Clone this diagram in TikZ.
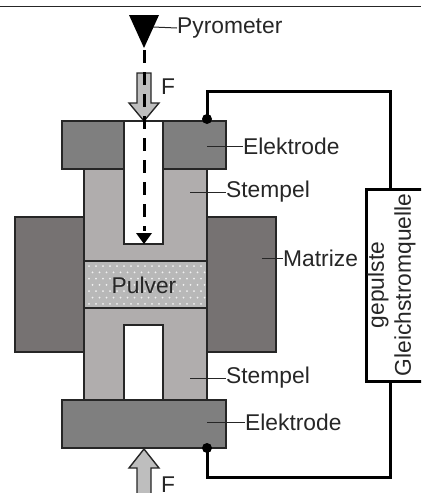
\documentclass[tikz,border=0pt]{standalone}
\usepackage{fontspec}
\setmainfont{Liberation Sans}
\usetikzlibrary{arrows.meta}
\definecolor{elek}{HTML}{7F7F7F}
\definecolor{stem}{HTML}{B0ADAD}
\definecolor{matr}{HTML}{767272}
\definecolor{pulv}{HTML}{B8B8B8}
\definecolor{ink}{HTML}{262626}
\definecolor{farrow}{HTML}{BEBEBE}
\tikzset{
  x=1pt,y=-1pt,
  part/.style={draw=ink,line width=1.4pt,inner sep=0pt,outer sep=0pt,anchor=north west},
  lbl/.style={font=\fontsize{22.8}{26}\selectfont,text=ink,inner sep=0pt,anchor=west},
  lead/.style={draw=ink,line width=1pt},
  wire/.style={draw=black,line width=3pt},
  junction/.style={circle,fill=black,inner sep=0pt,minimum size=10pt},
  beam/.style={draw=black,line width=3pt,dash pattern=on 13pt off 9pt},
  farr/.style={draw=ink,line width=1.4pt,fill=farrow,line join=miter},
}
\newcommand{\partbox}[7]{\node[part,fill=#2,minimum width=#5-#3,minimum height=#6-#4] (#1) at (#3,#4) {#7};}
\begin{document}
\begin{tikzpicture}
\useasboundingbox (0,0) rectangle (421,493);
\clip (0,0) rectangle (421,493);
\draw[ink,line width=1pt] (0,6) -- (421,6);
% matrix
\partbox{matL}{matr}{15}{217}{84}{352}{}
\partbox{matR}{matr}{207}{217}{276}{352}{}
% punches
\partbox{stemT}{stem}{84}{169}{207}{261}{}
\partbox{stemB}{stem}{84}{308}{207}{400}{}
% powder
\partbox{pulver}{pulv}{84}{261}{207}{308}{}
\foreach \i in {0,...,16}{\foreach \j in {0,...,6}{
  \fill[white,opacity=.8] ({89+\i*7+mod(\j,2)*3.5},{266+\j*6.3}) circle (1pt);
}}
\node[font=\fontsize{22.8}{26}\selectfont,text=ink,inner sep=0pt] (pulvertxt) at (144,285) {Pulver};
% electrodes
\partbox{elT}{elek}{62}{121}{226}{169}{}
\partbox{elB}{elek}{62}{400}{226}{448}{}
% holes
\partbox{holeT}{white}{124}{121}{163}{244}{}
\partbox{holeB}{white}{124}{325}{163}{400}{}
% force arrow top
\draw[farr] (137,73) -- (151,73) -- (151,103) -- (159,103) -- (144,121) -- (129,103) -- (137,103) -- cycle;
% force arrow bottom
\draw[farr] (137,494) -- (137,468) -- (129,468) -- (144,449) -- (159,468) -- (151,468) -- (151,494);
% pyrometer
\fill[black] (129,15) -- (159,15) -- (144,48) -- cycle;
\coordinate (pyr) at (144,50);
\coordinate (pyrside) at (153,27);
\fill[black] (136,233) -- (152,233) -- (144,244) -- cycle;
\coordinate (beamend) at (144,231);
\draw[beam] (pyr) -- (beamend);
% source
\node[part,draw=black,line width=3pt,fill=white,rotate=90,anchor=center,minimum width=192pt,minimum height=60pt] (src) at (396,285) {};
\node[rotate=90,inner sep=0pt,align=center,font=\fontsize{22.8}{27}\selectfont,text=ink] (srctxt) at (391.5,285) {gepulste\\Gleichstromquelle};
% wires
\node[junction] (jT) at (207,119) {};
\node[junction] (jB) at (207,448) {};
\draw[wire] (jT.center) -- (207,91) -- (390,91) -- (390,189);
\draw[wire] (jB.center) -- (207,477) -- (390,477) -- (390,381);
% labels
\node[lbl] (tPyr) at (177,28) {Pyrometer};
\node[lbl] (tF1) at (161,87) {F};
\node[lbl,anchor=base west] (tF2) at (161,492.5) {F};
\node[lbl] (tElT) at (243,146) {Elektrode};
\node[lbl] (tStT) at (226,192) {Stempel};
\node[lbl] (tMat) at (283,258) {Matrize};
\node[lbl] (tStB) at (226,378) {Stempel};
\node[lbl] (tElB) at (245,422) {Elektrode};
\draw[lead] (pyrside) -- (tPyr.west);
\coordinate (aElT) at (207,146);
\coordinate (aStT) at (190,192);
\coordinate (aMat) at (262,258);
\coordinate (aStB) at (190,378);
\coordinate (aElB) at (207,422);
\draw[lead] (aElT) -- (tElT.west);
\draw[lead] (aStT) -- (tStT.west);
\draw[lead] (aMat) -- (tMat.west);
\draw[lead] (aStB) -- (tStB.west);
\draw[lead] (aElB) -- (tElB.west);
\end{tikzpicture}
\end{document}
